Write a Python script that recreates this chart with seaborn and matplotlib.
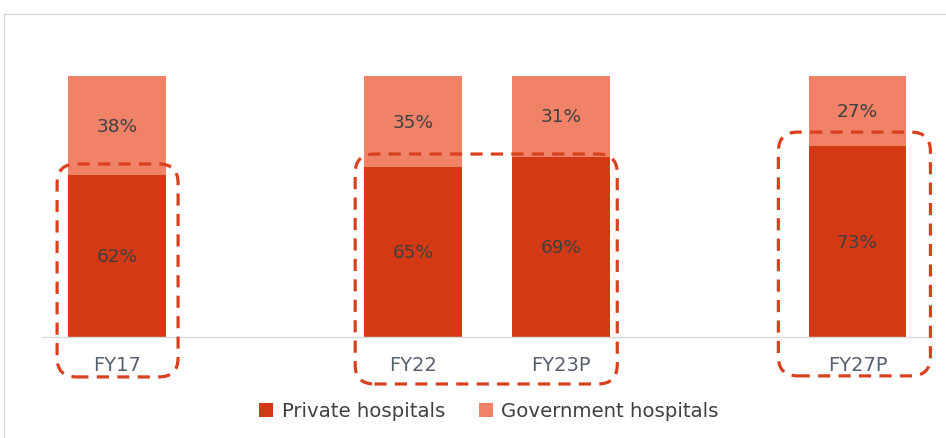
import matplotlib
matplotlib.use("Agg")
import matplotlib.pyplot as plt
import seaborn as sns
import pandas as pd
from matplotlib.patches import FancyBboxPatch, Patch
from matplotlib.lines import Line2D

categories = ["FY17", "FY22", "FY23P", "FY27P"]
private = [62, 65, 69, 73]
government = [38, 35, 31, 27]
order = ["FY17", " ", "FY22", "FY23P", "  ", "FY27P"]

PRIV = "#D33915"
GOV = "#F08268"
BOX = "#D8401E"

sns.set_theme(style="white")
plt.rcParams['font.family'] = ['DejaVu Sans']

df = pd.DataFrame({"cat": categories, "private": private, "government": government})
df["total"] = df["private"] + df["government"]

fig = plt.figure(figsize=(9.46, 4.39), dpi=100)
ax = fig.add_axes([42/946, (439-338)/439, (930-42)/946, (338-77)/439])

sns.barplot(data=df, x="cat", y="total", order=order, color=GOV, width=0.66,
            saturation=1, ax=ax, edgecolor="none")
sns.barplot(data=df, x="cat", y="private", order=order, color=PRIV, width=0.66,
            saturation=1, ax=ax, edgecolor="none")

pos = {c: order.index(c) for c in categories}
for c, p, g in zip(categories, private, government):
    x = pos[c]
    ax.text(x, p / 2, f"{p}%", ha="center", va="center", fontsize=13.3, color="#404040")
    ax.text(x, p + g / 2, f"{g}%", ha="center", va="center", fontsize=13.3, color="#404040")

ax.set_xlim(-0.507, 5.49)
ax.set_ylim(0, 100)
ax.set_xlabel("")
ax.set_ylabel("")
ax.set_yticks([])
ax.tick_params(axis="x", length=0, pad=13, labelsize=14, labelcolor="#586070")
for s in ["top", "right", "left"]:
    ax.spines[s].set_visible(False)
ax.spines["bottom"].set_color("#D9D9D9")
ax.spines["bottom"].set_linewidth(1)

aspect = 148 / 2.61
boxes = [(-0.405, -15.3, 0.412, 66.3), (1.608, -18.0, 3.378, 70.1), (4.466, -14.9, 5.493, 78.5)]
for x0, y0, x1, y1 in boxes:
    patch = FancyBboxPatch((x0, y0), x1 - x0, y1 - y0,
                           boxstyle="round,pad=0,rounding_size=0.13",
                           mutation_aspect=aspect, transform=ax.transData,
                           fill=False, edgecolor=BOX, linewidth=2.3,
                           linestyle=(0, (3.8, 2.6)), clip_on=False, zorder=5)
    ax.add_patch(patch)

handles = [Patch(facecolor=PRIV, edgecolor="none", label="Private hospitals"),
           Patch(facecolor=GOV, edgecolor="none", label="Government hospitals")]
fig.legend(handles=handles, loc="center", bbox_to_anchor=(0.517, 1 - 412/439), ncol=2,
           frameon=False, fontsize=14.2, handlelength=0.7, handleheight=0.7,
           handletextpad=0.45, columnspacing=1.7, labelcolor="#404040")

fig.add_artist(Line2D([4/946, 4/946], [0, 1 - 15/439], transform=fig.transFigure, color="#D9D9D9", lw=1))
fig.add_artist(Line2D([4/946, 1], [1 - 15/439, 1 - 15/439], transform=fig.transFigure, color="#D9D9D9", lw=1))

fig.savefig("out.png", dpi=100)
